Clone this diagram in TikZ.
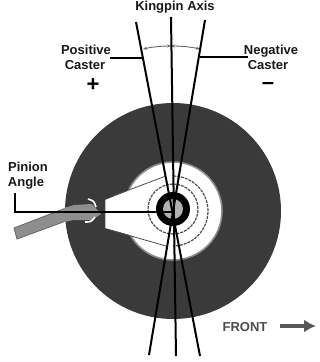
\documentclass[tikz,border=0pt]{standalone}
\usepackage{fontspec}
\setmainfont{Liberation Sans}
\usetikzlibrary{arrows.meta,positioning}
\definecolor{tire}{HTML}{3A3A3A}
\definecolor{rim}{HTML}{8C8C8C}
\definecolor{shaft}{HTML}{8E8E8E}
\begin{document}
\begin{tikzpicture}[x=1pt,y=-1pt,semithick]
\tikzstyle{axis}=[draw=black,line width=2pt]
\tikzstyle{leader}=[draw=black,line width=1.3pt]
\tikzstyle{label}=[font=\bfseries\fontsize{13}{14}\selectfont,text=black!90,inner sep=0pt]
\tikzstyle{sign}=[font=\bfseries\fontsize{22}{22}\selectfont,text=black,inner sep=0pt,text height=7pt,text depth=0pt]
\tikzstyle{seal}=[draw=black!70,line width=1.2pt,dash pattern=on 3pt off 1pt]
\useasboundingbox (0,0) rectangle (320,362);
\fill[white] (0,0) rectangle (320,362);
% tire and rim
\fill[tire] (173,211) circle (108);
\fill[white,draw=rim,line width=1.6pt] (173,211) circle (49);
% axle housing
\fill[white] (105,200) -- (165,176) -- (165,245) -- (105,228) -- cycle;
\draw[black!70,line width=0.8pt] (166,176) -- (110,197) (105,199) -- (105,228) (110,230) -- (166,246);
% seals around the hub
\draw[seal] (173,176) arc (-90:90:35);
\draw[seal] (173,184) arc (-90:90:25);
\draw[seal] (173,184) arc (270:90:25);
% hub
\fill[black] (173,209) circle (17);
\fill[black!30] (173,209) circle (10);
% drive shaft and yoke
\fill[shaft,draw=black!60,line width=0.8pt] (14,228) -- (66,208) -- (66,221) -- (17,239) -- cycle;
\fill[shaft] (64,208) -- (74,205) -- (92,204) -- (101,214) -- (92,220) -- (74,220) -- (64,222) -- cycle;
\draw[white,line width=1.6pt] (88,199) .. controls (94,201) .. (96,207);
\draw[white,line width=1.6pt] (85,222) .. controls (91,222) .. (95,217);
% angle arc
\coordinate (lefttop) at (136,22);
\coordinate (leftbot) at (200,356);
\coordinate (midtop) at (171,17);
\coordinate (midbot) at (176,356);
\coordinate (righttop) at (205,20);
\coordinate (rightbot) at (149,355);
\draw[black!60,line width=0.9pt,{Stealth[length=4pt]}-{Stealth[length=4pt]}] (143,49) .. controls (152,47) and (162,46) .. (171,46);
\draw[black!60,line width=0.9pt,{Stealth[length=4pt]}-{Stealth[length=4pt]}] (171,46) .. controls (181,46) and (191,47) .. (200,49);
% kingpin lines
\draw[axis] (lefttop) -- (leftbot);
\draw[axis] (midtop) -- (midbot);
\draw[axis] (righttop) -- (rightbot);
% labels
\node[label] (kingpin) at (175,7) {Kingpin Axis};
\node[label] (positive) at (86,50) {Positive};
\node[label] (poscaster) at (85,65) {Caster};
\node[sign] (plus) at (93,88) {+};
\node[label] (negative) at (271,51) {Negative};
\node[label] (negcaster) at (268,65) {Caster};
\node[sign] (minus) at (268,86) {\textendash};
\node[label] (pinion) at (28,167) {Pinion};
\node[label] (angle) at (26,183) {Angle};
\node[label,text=black!70] (front) at (245,327) {FRONT};
% leaders
\coordinate (posend) at (143,58);
\coordinate (negend) at (200,57);
\coordinate (pintop) at (15,193);
\coordinate (pinbend) at (15,212);
\coordinate (hubend) at (172,212);
\draw[leader] (110,58) -- (posend);
\draw[leader] (negend) -- (248,57);
\draw[leader] (pintop) -- (pinbend) -- (hubend);
% direction arrow
\draw[black!65,line width=4pt,-{Latex[length=12pt,width=13pt]}] (280,326) -- (316,326);
\end{tikzpicture}
\end{document}
